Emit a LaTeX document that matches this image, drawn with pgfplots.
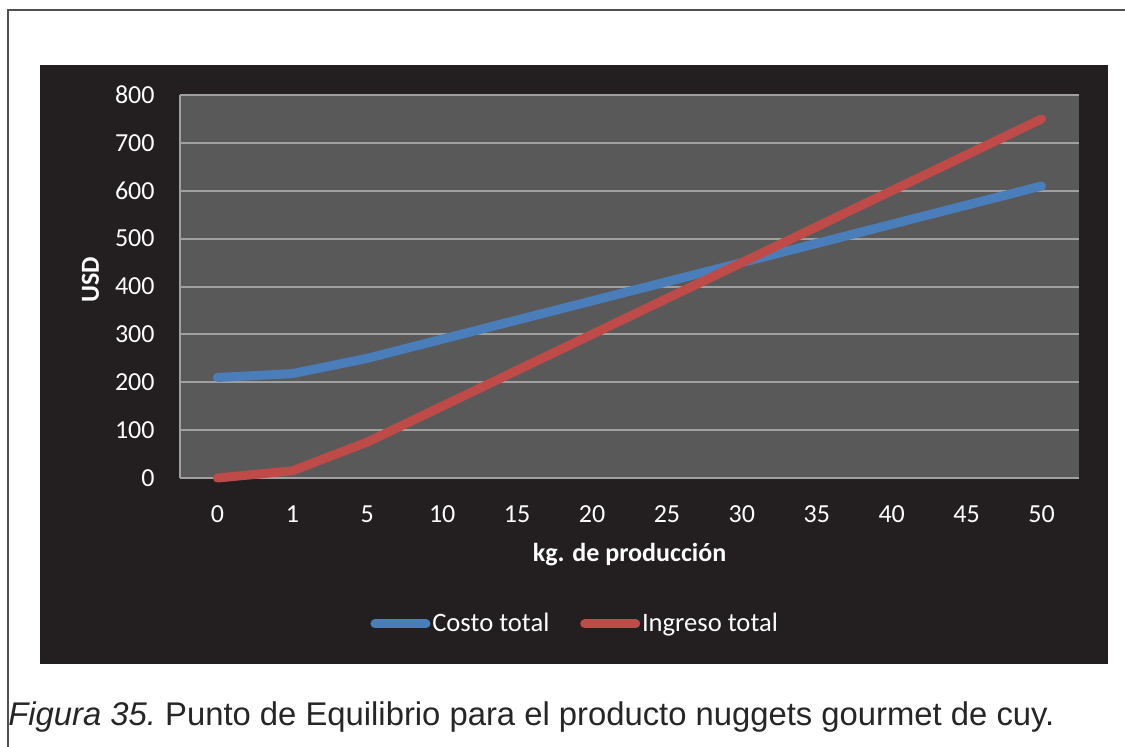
\documentclass[border=0pt]{standalone}
\usepackage{fontspec}
\setmainfont{Carlito}
\newfontfamily\arial{Liberation Sans}
\usepackage{pgfplots}
\pgfplotsset{compat=1.18}
\definecolor{chartbg}{HTML}{231F20}
\definecolor{plotbg}{HTML}{595959}
\definecolor{gridc}{HTML}{A0A0A0}
\definecolor{costo}{HTML}{4A7EBB}
\definecolor{ingreso}{HTML}{BE4B48}
\definecolor{framec}{HTML}{505050}
\definecolor{capt}{HTML}{262626}
\begin{document}
\begin{tikzpicture}[x=0.5pt,y=0.5pt]
\useasboundingbox (0,0) rectangle (1125,746);
\fill[white] (0,0) rectangle (1125,746);
\draw[framec, line width=1pt] (7.5,-5) -- (7.5,736) -- (1130,736);
\fill[chartbg] (40,82) rectangle (1108,681);
\begin{axis}[
 at={(90pt,134pt)}, anchor=south west,
 scale only axis, width=449.5pt, height=191.5pt,
 xmin=-0.5, xmax=11.5, ymin=0, ymax=800,
 xtick={0,...,11}, xticklabels={0,1,5,10,15,20,25,30,35,40,45,50},
 ytick={0,100,...,800},
 major tick length=0pt,
 axis lines*=left,
 axis line style={draw=gridc, line width=1pt},
 axis background/.style={fill=plotbg},
 ymajorgrids, grid style={draw=gridc, line width=1pt},
 tick label style={font=\fontsize{13pt}{15pt}\selectfont, text=white, inner sep=0pt},
 /pgf/number format/assume math mode=true,
 yticklabel style={xshift=-12.5pt},
 xticklabel style={yshift=-13.5pt},
 xlabel={kg. de producción}, ylabel={USD},
 label style={font=\bfseries\fontsize{13pt}{15pt}\selectfont, text=white},
 xlabel style={at={(axis description cs:0.5,-0.219)}, anchor=base},
 ylabel style={at={(axis description cs:-0.0901,0.517)}, anchor=base},
 clip=false,
 legend columns=2,
 legend style={draw=none, fill=none, text=white, font=\fontsize{13.3pt}{15pt}\selectfont,
   at={(axis description cs:0.4395,-0.381)}, anchor=center,
   /tikz/every even column/.append style={column sep=14.5pt},
   nodes={inner xsep=0.9pt, inner ysep=1pt}},
 legend image code/.code={\draw[#1, line cap=round] (2.25pt,0pt) -- (27.75pt,0pt);},
 every axis plot/.append style={line width=4.5pt, line cap=round, line join=round},
]
\addplot[costo, no marks] coordinates {(0,210) (1,218) (2,250) (3,290) (4,330) (5,370) (6,410) (7,450) (8,490) (9,530) (10,570) (11,610)};
\addlegendentry{Costo total}
\addplot[ingreso, no marks] coordinates {(0,0) (1,15) (2,75) (3,150) (4,225) (5,300) (6,375) (7,450) (8,525) (9,600) (10,675) (11,750)};
\addlegendentry{Ingreso total}
\end{axis}
\node[anchor=base west, inner sep=0pt, text=capt, font=\arial\fontsize{16.4pt}{19pt}\selectfont] at (8,21) {\textit{Figura 35.}\ Punto de Equilibrio para el producto nuggets gourmet de cuy.};
\end{tikzpicture}
\end{document}
